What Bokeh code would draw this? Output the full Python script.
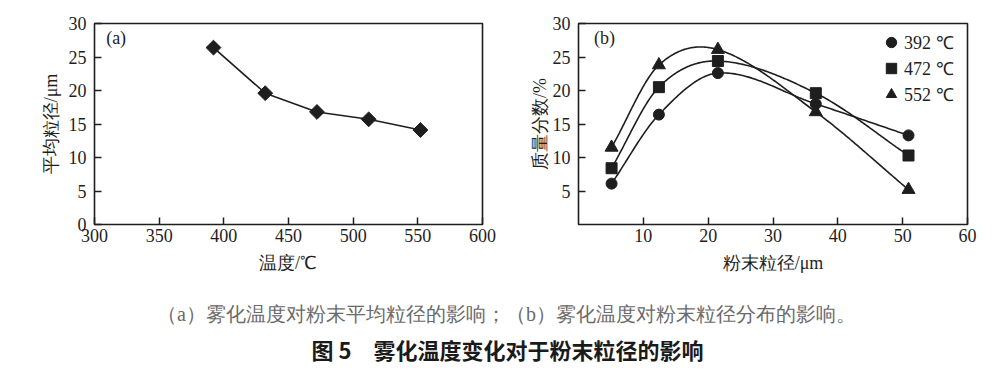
import numpy as np
from bokeh.plotting import figure
from bokeh.models import Legend, LegendItem, FixedTicker, Label, Range1d
from bokeh.layouts import column, row
from bokeh.core.properties import value
from bokeh.embed import file_html
from bokeh.resources import INLINE

# ---------------- data ----------------
# (a) mean particle size vs atomization temperature
temps_a = [392, 432, 472, 512, 552]
mean_size = [26.4, 19.6, 16.8, 15.7, 14.1]
xticks_a = [300, 350, 400, 450, 500, 550, 600]
yticks_a = [0, 5, 10, 15, 20, 25, 30]

# (b) mass fraction vs particle size
sizes_b = [5.1, 12.4, 21.5, 36.6, 50.9]
frac_392 = [6.1, 16.4, 22.6, 18.0, 13.3]
frac_472 = [8.4, 20.5, 24.4, 19.6, 10.3]
frac_552 = [11.5, 23.8, 26.1, 16.8, 5.2]
legend_labels = ["392 ℃", "472 ℃", "552 ℃"]
xticks_b = [10, 20, 30, 40, 50, 60]
yticks_b = [5, 10, 15, 20, 25, 30]

caption1 = "（a）雾化温度对粉末平均粒径的影响；（b）雾化温度对粉末粒径分布的影响。"
caption2 = "图 5　雾化温度变化对于粉末粒径的影响"

FONT = "Liberation Serif"
INK = "#1e1e1e"


def smooth_curve(x, y, n=60):
    """Smooth connecting curve (Catmull-Rom style Hermite) through the points."""
    x = np.asarray(x, float)
    y = np.asarray(y, float)
    m = np.empty_like(y)
    m[1:-1] = (y[2:] - y[:-2]) / (x[2:] - x[:-2])
    m[0] = (y[1] - y[0]) / (x[1] - x[0])
    m[-1] = (y[-1] - y[-2]) / (x[-1] - x[-2])
    xs, ys = [], []
    for i in range(len(x) - 1):
        h = x[i + 1] - x[i]
        t = np.linspace(0, 1, n)
        h00 = 2 * t ** 3 - 3 * t ** 2 + 1
        h10 = t ** 3 - 2 * t ** 2 + t
        h01 = -2 * t ** 3 + 3 * t ** 2
        h11 = t ** 3 - t ** 2
        xs.extend(x[i] + t * h)
        ys.extend(h00 * y[i] + h10 * h * m[i] + h01 * y[i + 1] + h11 * h * m[i + 1])
    return xs, ys


def style(p, xticks, yticks):
    p.outline_line_color = INK
    p.outline_line_width = 1.6
    p.grid.visible = False
    p.xaxis.ticker = FixedTicker(ticks=xticks)
    p.yaxis.ticker = FixedTicker(ticks=yticks)
    for ax in list(p.xaxis) + list(p.yaxis):
        ax.axis_line_color = None
        ax.major_tick_in = 7
        ax.major_tick_out = 0
        ax.minor_tick_line_color = None
        ax.major_tick_line_color = INK
        ax.major_tick_line_width = 1.5
        ax.major_label_text_font = FONT
        ax.major_label_text_font_size = "18px"
        ax.major_label_text_color = INK
        ax.axis_label_text_font = FONT
        ax.axis_label_text_font_size = "18px"
        ax.axis_label_text_font_style = "normal"
        ax.axis_label_text_color = INK
    p.xaxis.major_label_standoff = 4
    p.xaxis.axis_label_standoff = 8
    p.yaxis.major_label_standoff = 8


# ---------------- (a) ----------------
p1 = figure(width=490, height=268, x_range=Range1d(xticks_a[0], xticks_a[-1]),
            y_range=Range1d(yticks_a[0], yticks_a[-1]),
            output_backend="svg", toolbar_location=None,
            min_border_left=87, min_border_right=15, min_border_top=16, min_border_bottom=49)
style(p1, xticks_a, yticks_a)
p1.xaxis.axis_label = "温度/℃"
p1.yaxis.axis_label = "平均粒径/μm"
p1.yaxis.axis_label_standoff = 5
p1.line(temps_a, mean_size, line_color=INK, line_width=1.6)
p1.scatter(temps_a, mean_size, marker="square", angle=np.pi / 4, size=10.5,
           fill_color=INK, line_color=INK)
p1.text(x=[xticks_a[0] + 0.03 * (xticks_a[-1] - xticks_a[0])], y=[27.9], text=["(a)"],
        text_font=value(FONT), text_font_size=value("18px"), text_color=INK,
        text_baseline="middle", text_align="left")

# ---------------- (b) ----------------
p2 = figure(width=494, height=268, x_range=Range1d(0, xticks_b[-1]),
            y_range=Range1d(0, yticks_b[-1]),
            output_backend="svg", toolbar_location=None,
            min_border_left=81, min_border_right=24, min_border_top=16, min_border_bottom=49)
style(p2, xticks_b, yticks_b)
p2.xaxis.axis_label = "粉末粒径/μm"
p2.yaxis.axis_label = "质量分数/%"
p2.yaxis.axis_label_standoff = 0

series = [frac_392, frac_472, frac_552]
markers = ["circle", "square", "triangle"]
msizes = [11, 11, 13]
items = []
for vals, mk, ms, lab in zip(series, markers, msizes, legend_labels):
    sx, sy = smooth_curve(sizes_b, vals)
    p2.line(sx, sy, line_color=INK, line_width=1.6)
    r = p2.scatter(sizes_b, vals, marker=mk, size=ms, fill_color=INK, line_color=INK)
    items.append(LegendItem(label=lab, renderers=[r]))

legend = Legend(items=items, location=(300, 117), border_line_color=None,
                background_fill_alpha=0, padding=0, margin=0, spacing=0,
                glyph_width=26, glyph_height=26, label_standoff=0,
                label_text_font=FONT, label_text_font_size="18px",
                label_text_color=INK, label_height=20)
p2.add_layout(legend)

p2.add_layout(Label(x=0, y=0, x_offset=-20, y_offset=-4, text="0",
                    text_font=FONT, text_font_size="18px", text_color=INK,
                    text_align="center", text_baseline="top"))
p2.text(x=[0.04 * xticks_b[-1]], y=[27.9], text=["(b)"],
        text_font=value(FONT), text_font_size=value("18px"), text_color=INK,
        text_baseline="middle", text_align="left")

# ---------------- captions ----------------
p3 = figure(width=984, height=90, x_range=Range1d(0, 984), y_range=Range1d(90, 0),
            output_backend="svg", toolbar_location=None, min_border=0)
p3.axis.visible = False
p3.grid.visible = False
p3.outline_line_color = None
p3.text(x=[499], y=[38], text=[caption1], text_font=value(FONT),
        text_font_size=value("20px"), text_color="#6a6a6a",
        text_align="center", text_baseline="middle")
p3.text(x=[500], y=[73], text=[caption2], text_font=value("Noto Sans CJK SC"),
        text_font_size=value("22px"), text_font_style="bold", text_color="#1a1a1a",
        text_align="center", text_baseline="middle")

layout = column(row(p1, p2, spacing=0), p3, spacing=0)
layout.margin = (7, 0, 0, 7)
open("out.html", "w").write(file_html(layout, INLINE))
